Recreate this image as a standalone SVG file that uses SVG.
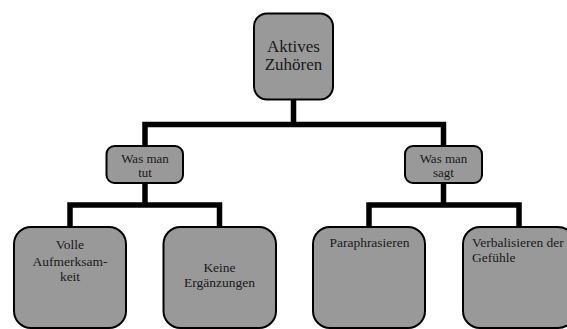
<svg xmlns="http://www.w3.org/2000/svg" width="567" height="329" viewBox="0 0 567 329">
<style>
.box{fill:#999999;stroke:#000;stroke-width:2}
.conn{fill:none;stroke:#000;stroke-width:5.5;stroke-linejoin:miter;stroke-linecap:butt}
text{font-family:"Liberation Serif","Times New Roman",serif;fill:#1a1a1a}
.t1{font-size:17px;text-anchor:middle}
.t2{font-size:13px;text-anchor:middle}
.t3{font-size:13.5px;text-anchor:middle}
.t3l{font-size:13.5px}
</style>
<rect width="567" height="329" fill="#fff"/>
<g id="connectors">
<path class="conn" d="M293.5,100 V124.5 M145,146 V124.5 H443.5 V146"/>
<path class="conn" d="M145,183 V205 M70,227 V205 H219.5 V227"/>
<path class="conn" d="M443.5,183 V205 M369,227 V205 H519 V227"/>
</g>
<g id="root">
<rect class="box" x="254" y="13.5" width="79" height="86" rx="13"/>
<text class="t1" x="293.5" y="52">Aktives</text>
<text class="t1" x="293.5" y="70">Zuhören</text>
</g>
<g id="was-man-tut">
<rect class="box" x="106.5" y="146" width="76.5" height="37" rx="8"/>
<text class="t2" x="145" y="163">Was man</text>
<text class="t2" x="145" y="177">tut</text>
</g>
<g id="was-man-sagt">
<rect class="box" x="405" y="146" width="77" height="37" rx="8"/>
<text class="t2" x="443.5" y="163">Was man</text>
<text class="t2" x="443.5" y="177">sagt</text>
</g>
<g id="volle-aufmerksamkeit">
<rect class="box" x="14" y="227" width="112" height="101" rx="17"/>
<text class="t3" x="70" y="249">Volle</text>
<text class="t3" x="70" y="265.5">Aufmerksam-</text>
<text class="t3" x="70" y="281">keit</text>
</g>
<g id="keine-ergaenzungen">
<rect class="box" x="163.5" y="227" width="112.5" height="101" rx="17"/>
<text class="t3" x="219.5" y="272">Keine</text>
<text class="t3" x="219.5" y="287">Ergänzungen</text>
</g>
<g id="paraphrasieren">
<rect class="box" x="313" y="227" width="112" height="101" rx="17"/>
<text class="t3" x="369.5" y="247">Paraphrasieren</text>
</g>
<g id="verbalisieren">
<rect class="box" x="463" y="227" width="112" height="101" rx="17"/>
<text class="t3l" x="472" y="247">Verbalisieren der</text>
<text class="t3l" x="472" y="262">Gefühle</text>
</g>
</svg>
